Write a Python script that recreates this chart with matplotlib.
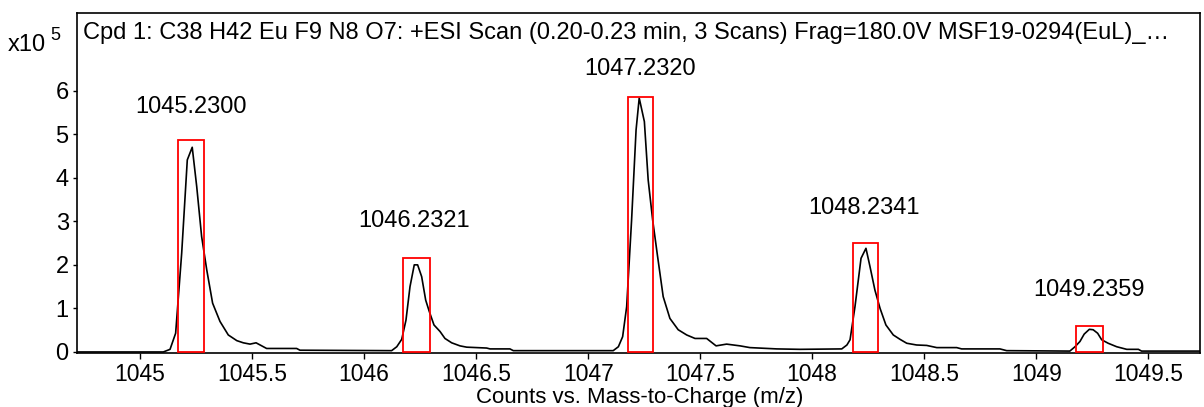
import numpy as np
import matplotlib
matplotlib.use("Agg")
import matplotlib.pyplot as plt
from matplotlib.patches import Rectangle

plt.rcParams['font.family'] = ['Liberation Sans', 'DejaVu Sans']

# profile spectrum (m/z, counts x10^5)
mz = [1044.719, 1045.104, 1045.134, 1045.159, 1045.186, 1045.211, 1045.233, 1045.253,
      1045.275, 1045.298, 1045.324, 1045.357, 1045.394, 1045.432, 1045.461, 1045.491,
      1045.518, 1045.565, 1045.699, 1045.714,
      1046.123, 1046.146, 1046.168, 1046.187, 1046.205, 1046.224, 1046.239, 1046.257,
      1046.275, 1046.291, 1046.312, 1046.339, 1046.361, 1046.391, 1046.428, 1046.458,
      1046.547, 1046.562, 1046.651, 1046.666,
      1047.112, 1047.135, 1047.154, 1047.172, 1047.194, 1047.214, 1047.228, 1047.251,
      1047.268, 1047.288, 1047.309, 1047.335, 1047.365, 1047.402, 1047.440, 1047.477,
      1047.529, 1047.571, 1047.618, 1047.678, 1047.722, 1047.842, 1047.946,
      1048.132, 1048.155, 1048.169, 1048.191, 1048.218, 1048.240, 1048.258, 1048.280,
      1048.303, 1048.329, 1048.362, 1048.392, 1048.422, 1048.466, 1048.511, 1048.556,
      1048.645, 1048.667, 1048.838, 1048.868,
      1049.150, 1049.173, 1049.195, 1049.214, 1049.237, 1049.254, 1049.274, 1049.292,
      1049.321, 1049.359, 1049.404, 1049.456, 1049.470, 1049.731]
counts = [0.00, 0.00, 0.06, 0.43, 2.27, 4.41, 4.70, 3.80,
          2.65, 1.88, 1.12, 0.70, 0.39, 0.26, 0.21, 0.18,
          0.21, 0.08, 0.08, 0.04,
          0.03, 0.12, 0.29, 0.73, 1.50, 2.00, 2.00, 1.73,
          1.19, 0.93, 0.62, 0.47, 0.31, 0.21, 0.14, 0.11,
          0.09, 0.07, 0.07, 0.03,
          0.03, 0.12, 0.35, 1.04, 3.03, 5.10, 5.83, 5.29,
          3.95, 3.03, 2.23, 1.27, 0.77, 0.51, 0.39, 0.31,
          0.31, 0.14, 0.18, 0.14, 0.10, 0.07, 0.06,
          0.07, 0.16, 0.28, 1.04, 2.15, 2.38, 1.96, 1.42,
          1.00, 0.62, 0.39, 0.29, 0.20, 0.16, 0.15, 0.10,
          0.10, 0.07, 0.07, 0.03,
          0.02, 0.12, 0.24, 0.41, 0.52, 0.51, 0.43, 0.28,
          0.20, 0.12, 0.06, 0.06, 0.02, 0.02]

# labelled peaks and their highlight boxes
peak_labels = ["1045.2300", "1046.2321", "1047.2320", "1048.2341", "1049.2359"]
label_x = [1045.227, 1046.223, 1047.230, 1048.231, 1049.237]
label_y = [5.63, 3.01, 6.50, 3.31, 1.42]
box_left = [1045.168, 1046.174, 1047.177, 1048.180, 1049.177]
box_right = [1045.287, 1046.295, 1047.288, 1048.293, 1049.296]
box_top = [4.87, 2.16, 5.85, 2.50, 0.60]

x_ticks = [1045, 1045.5, 1046, 1046.5, 1047, 1047.5, 1048, 1048.5, 1049, 1049.5]
y_ticks = [0, 1, 2, 3, 4, 5, 6]

fs = 17

fig = plt.figure(figsize=(12.04, 4.07), dpi=100)
ax = fig.add_axes([0.064, 0.1331, 0.9327, 0.8357])

ax.plot(mz, counts, color='black', lw=1.2, zorder=3)
for l, r, t in zip(box_left, box_right, box_top):
    ax.add_patch(Rectangle((l, 0), r - l, t, fill=False, edgecolor='#ff0000', lw=1.3, zorder=4))
for s, x, y in zip(peak_labels, label_x, label_y):
    ax.text(x, y, s, ha='center', va='center', fontsize=fs)

ax.set_xlim(1044.719, 1049.731)
ax.set_ylim(-0.02, 7.79)
ax.set_xticks(x_ticks)
ax.set_xticklabels(["%g" % v for v in x_ticks])
ax.set_yticks(y_ticks)
ax.tick_params(axis='x', direction='out', length=4, width=1, labelsize=16.5, pad=3)
ax.tick_params(axis='y', direction='out', length=3, width=1, labelsize=fs, pad=3)
for sp in ax.spines.values():
    sp.set_linewidth(1.2)

ax.text(0.005, 0.94, "Cpd 1: C38 H42 Eu F9 N8 O7: +ESI Scan (0.20-0.23 min, 3 Scans) "
        "Frag=180.0V MSF19-0294(EuL)_\u2026", transform=ax.transAxes,
        ha='left', va='center', fontsize=fs)

fig.text(8 / 1204, 1 - 45 / 407, "x10", ha='left', va='center', fontsize=fs)
fig.text(50 / 1204, 1 - 36 / 407, "5", ha='left', va='center', fontsize=13)
fig.text(640 / 1204, 1 - 397 / 407, "Counts vs. Mass-to-Charge (m/z)", ha='center',
         va='center', fontsize=16)

fig.savefig("out.png", dpi=100)
